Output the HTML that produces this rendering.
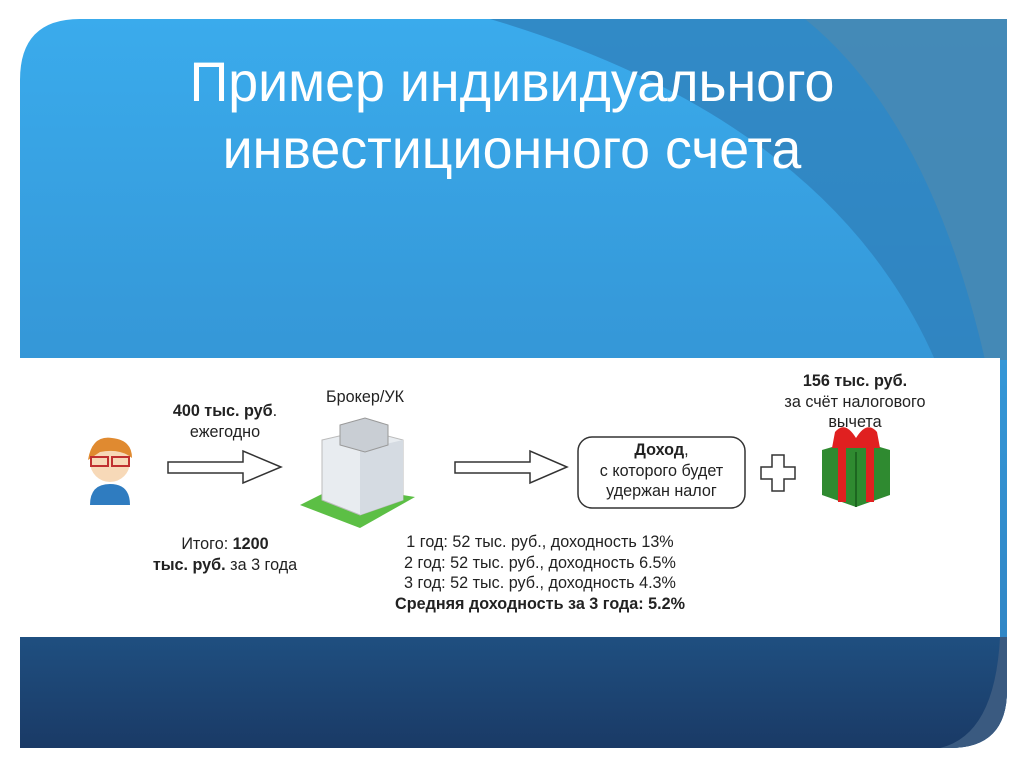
<!DOCTYPE html>
<html><head><meta charset="utf-8"><style>
body{margin:0;width:1024px;height:767px;background:#fff;position:relative;overflow:hidden;font-family:"Liberation Sans",sans-serif}
.t{position:absolute;font-size:16.5px;color:#222;text-align:center;white-space:nowrap;line-height:20.7px;transform:scaleX(0.98)}
</style></head><body>
<svg width="1024" height="767" style="position:absolute;left:0;top:0">
<defs>
<linearGradient id="g" x1="0" y1="0" x2="0" y2="1">
<stop offset="0" stop-color="#3aabec"/><stop offset="1" stop-color="#2f80bf"/></linearGradient>
<linearGradient id="n" x1="0" y1="0" x2="0" y2="1">
<stop offset="0" stop-color="#1f4f80"/><stop offset="1" stop-color="#1a3a66"/></linearGradient>
</defs>
<path d="M80 19 H1007 V690 Q1007 748 950 748 H20 V80 Q20 19 80 19Z" fill="url(#g)"/>
<path d="M490 19 H1007 V360 H935 Q830 120 490 19Z" fill="#2f7fba" opacity="0.75"/>
<path d="M805 19 H1007 V360 H985 Q930 120 805 19Z" fill="#4a8ab3" opacity="0.8"/>
<path d="M20 637 H1007 V690 Q1007 748 950 748 H20Z" fill="url(#n)"/>
<path d="M940 748 Q995 735 1000 637 H1007 V690 Q1007 748 950 748Z" fill="#3a5a80"/>
<rect x="20" y="358" width="980" height="279" fill="#fff"/>
<circle cx="110" cy="462" r="20" fill="#f7d9b8"/>
<path d="M88 460 Q92 435 112 438 Q132 440 132 458 Q120 448 100 452Z" fill="#e08a30"/>
<rect x="91" y="457" width="17" height="9" fill="none" stroke="#c03030" stroke-width="2"/>
<rect x="112" y="457" width="17" height="9" fill="none" stroke="#c03030" stroke-width="2"/>
<path d="M90 505 Q90 484 110 484 Q130 484 130 505Z" fill="#2f7cc0"/>
<path d="M168 462 H243 V451 L281 467 L243 483 V473 H168Z" fill="#fff" stroke="#333" stroke-width="1.5"/>
<path d="M455 462 H530 V451 L567 467 L530 483 V473 H455Z" fill="#fff" stroke="#333" stroke-width="1.5"/>
<path d="M300 505 L340 485 L415 497 L360 528Z" fill="#5cbf45"/>
<path d="M322 440 L365 430 L403 440 V500 L360 515 L322 500Z" fill="#e8ecf0" stroke="#bbb"/>
<path d="M360 450 V515 L403 500 V440Z" fill="#d5dbe2"/>
<path d="M340 425 L365 418 L388 425 V445 L365 452 L340 445Z" fill="#c9ced4" stroke="#999"/>
<rect x="578" y="437" width="167" height="71" rx="14" fill="#fff" stroke="#333" stroke-width="1.5"/>
<path d="M772 455 H784 V467 H795 V479 H784 V491 H772 V479 H761 V467 H772Z" fill="#fff" stroke="#333" stroke-width="1.5"/>
<path d="M822 450 L856 440 L890 450 V495 L856 507 L822 495Z" fill="#2f8a30"/>
<path d="M856 452 V507" stroke="#1d6620" stroke-width="2"/>
<rect x="838" y="444" width="8" height="58" fill="#e02020"/>
<rect x="866" y="444" width="8" height="58" fill="#e02020"/>
<path d="M835 432 Q845 420 856 438 Q867 420 877 432 L880 448 L832 448Z" fill="#e02020"/>
</svg>
<div style="position:absolute;left:0;width:1024px;top:48px;text-align:center;color:#fff;font-size:56px;line-height:67px;transform:scaleX(0.96)">Пример индивидуального<br>инвестиционного счета</div>
<div class="t" style="left:315px;width:100px;top:387px">Брокер/УК</div>
<div class="t" style="left:140px;width:170px;top:401px"><b>400 тыс. руб</b>.<br>ежегодно</div>
<div class="t" style="left:125px;width:200px;top:534px">Итого: <b>1200</b><br><b>тыс. руб.</b> за 3 года</div>
<div class="t" style="left:370px;width:340px;top:532px">1 год: 52 тыс. руб., доходность 13%<br>2 год: 52 тыс. руб., доходность 6.5%<br>3 год: 52 тыс. руб., доходность 4.3%<br><b>Средняя доходность за 3 года: 5.2%</b></div>
<div class="t" style="left:573px;width:177px;top:440px"><b>Доход</b>,<br>с которого будет<br>удержан налог</div>
<div class="t" style="left:760px;width:190px;top:371px"><b>156 тыс. руб.</b><br>за счёт налогового<br>вычета</div>
</body></html>
